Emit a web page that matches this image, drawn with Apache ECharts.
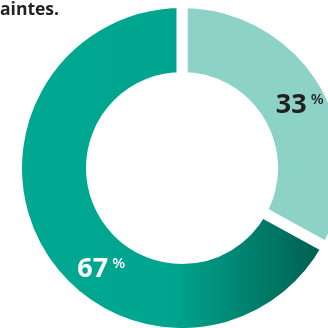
<!DOCTYPE html>
<html><head><meta charset="utf-8">
<script src="https://cdn.jsdelivr.net/npm/echarts@6/dist/echarts.min.js"></script>
<style>html,body{margin:0;padding:0;background:#fff}#c{width:328px;height:328px}</style>
</head><body><div id="c"></div>
<script>
const categories = ['A', 'B'];
const values = [33, 67];
const colors = ['#8dd2c7', null];
const chart = echarts.init(document.getElementById('c'));
const gradient = new echarts.graphic.LinearGradient(0, 0, 1, 0, [
  {offset: 0, color: '#00a892'},
  {offset: 0.5, color: '#00a58f'},
  {offset: 1, color: '#005a4b'}
]);
const labelStyles = [
  {color: '#231f20', dx: 5, dy: 4},
  {color: '#ffffff', dx: 32, dy: 35}
];
chart.setOption({
  animation: false,
  graphic: [{
    type: 'text', left: 0, top: 1,
    style: {text: 'aintes.', font: 'bold 17.5px "Open Sans"', fill: '#231f20'}
  }],
  series: [{
    type: 'pie',
    center: [182, 168],
    radius: [90.5, 165.5],
    startAngle: 90,
    clockwise: true,
    silent: true,
    itemStyle: {borderColor: '#ffffff', borderWidth: 11},
    labelLine: {show: false},
    label: {
      position: 'inside',
      formatter: p => '{a|' + p.value + '}{b|%}',
      rich: {
        a: {fontFamily: 'Open Sans', fontWeight: 'bold', fontSize: 27},
        b: {fontFamily: 'Open Sans', fontWeight: 600, fontSize: 15, verticalAlign: 'top', padding: [0, 0, 10, 4]}
      }
    },
    labelLayout: p => ({dx: labelStyles[p.dataIndex].dx, dy: labelStyles[p.dataIndex].dy}),
    data: categories.map((c, i) => ({
      name: c, value: values[i],
      itemStyle: {color: colors[i] || gradient},
      label: {color: labelStyles[i].color, rich: {a: {color: labelStyles[i].color}, b: {color: labelStyles[i].color}}}
    }))
  }]
});
</script></body></html>
